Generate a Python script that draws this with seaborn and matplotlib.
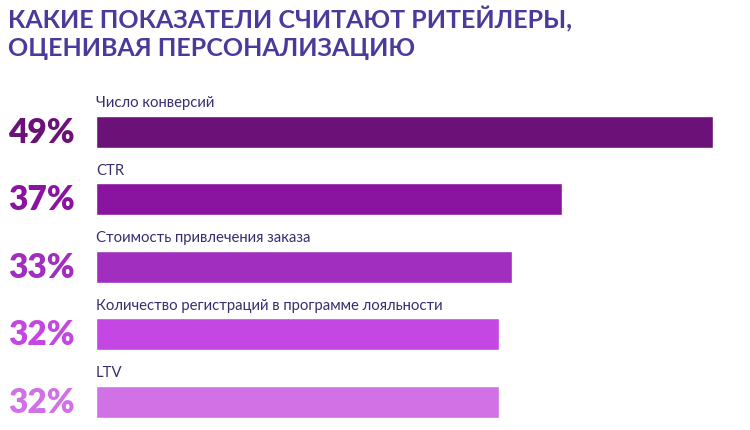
import matplotlib.pyplot as plt
import matplotlib.transforms as mtransforms
import seaborn as sns

# chart data
metrics = ['Число конверсий', 'CTR', 'Стоимость привлечения заказа',
           'Количество регистраций в программе лояльности', 'LTV']
shares = [49, 37, 33, 32, 32]
bar_colors = ['#6B1177', '#8A14A0', '#A12EBE', '#C447E3', '#D171E6']
title = 'КАКИЕ ПОКАЗАТЕЛИ СЧИТАЮТ РИТЕЙЛЕРЫ,\nОЦЕНИВАЯ ПЕРСОНАЛИЗАЦИЮ'

sns.set_style('white')
plt.rcParams['font.family'] = ['Lato', 'DejaVu Sans']

W, H = 750, 431
fig = plt.figure(figsize=(W / 100, H / 100), dpi=100)
fig.patch.set_facecolor('white')

# axes placed in pixel terms: x 96..713 maps to 0..49, rows spaced 67.5 px
top_px, bot_px = 99, 423
ax = fig.add_axes([96 / W, 1 - bot_px / H, (713 - 96) / W, (bot_px - top_px) / H])
sns.barplot(x=shares, y=metrics, hue=metrics, palette=bar_colors, legend=False,
            orient='h', width=0.47, saturation=1, ax=ax)
ax.set_xlim(0, max(shares))
ax.set_ylim(4.3, -0.5)
ax.axis('off')

trans = mtransforms.blended_transform_factory(fig.transFigure, ax.transData)
for i, (m, v, c) in enumerate(zip(metrics, shares, bar_colors)):
    ax.text(0, i - 0.44, m, ha='left', va='center', fontsize=10.7, color='#3B2C6E')
    ax.text(8 / W, i, f'{v}%', transform=trans, ha='left', va='center',
            fontsize=24, fontweight='heavy', color=c)

fig.text(8 / W, 1 - 6 / H, title, ha='left', va='top', fontsize=18,
         fontweight='bold', color='#4A3A9C', linespacing=1.25)

plt.savefig('out.png', dpi=100)
plt.close()
